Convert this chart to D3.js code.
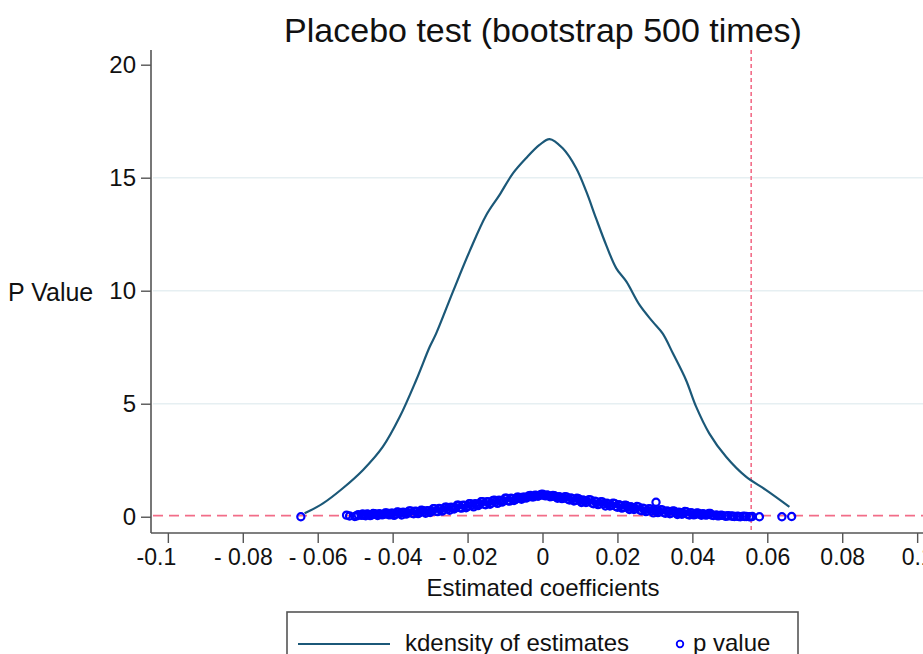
<!DOCTYPE html>
<html>
<head>
<meta charset="utf-8">
<script src="https://cdn.jsdelivr.net/npm/d3@7"></script>
<style>
  body { margin: 0; background: #fff; }
  svg text { font-family: "Liberation Sans", Arial, sans-serif; fill: #111; }
</style>
</head>
<body>
<div id="chart"></div>
<script>
// kernel density curve of the placebo estimates
var kdX = [-0.0635, -0.0586, -0.0533, -0.0479, -0.0426, -0.0381, -0.0337, -0.0301, -0.0284, -0.0239,
           -0.0195, -0.0150, -0.0115, -0.0079, -0.0044, -0.0008, 0.0019, 0.0054, 0.0090, 0.0117,
           0.0143, 0.0170, 0.0197, 0.0224, 0.0259, 0.0294, 0.0321, 0.0348, 0.0383, 0.0410,
           0.0445, 0.0490, 0.0543, 0.0597, 0.0659];
var kdY = [0.15, 0.59, 1.26, 2.07, 3.10, 4.42, 6.05, 7.52, 8.10, 9.96,
           11.73, 13.35, 14.23, 15.19, 15.86, 16.45, 16.71, 16.30, 15.42, 14.38,
           13.20, 12.02, 10.99, 10.40, 9.37, 8.63, 8.10, 7.23, 6.05, 4.87,
           3.69, 2.65, 1.77, 1.18, 0.44];

// p values of the bootstrap estimates (coefficient, p)
var pCoef = [-0.0480, -0.0472, -0.0464, -0.0456, -0.0448, -0.0440, -0.0432, -0.0424, -0.0416, -0.0408,
             -0.0400, -0.0392, -0.0384, -0.0376, -0.0368, -0.0360, -0.0352, -0.0344, -0.0336, -0.0328,
             -0.0320, -0.0312, -0.0304, -0.0296, -0.0288, -0.0280, -0.0272, -0.0264, -0.0256, -0.0248,
             -0.0240, -0.0232, -0.0224, -0.0216, -0.0208, -0.0200, -0.0192, -0.0184, -0.0176, -0.0168,
             -0.0160, -0.0152, -0.0144, -0.0136, -0.0128, -0.0120, -0.0112, -0.0104, -0.0096, -0.0088,
             -0.0080, -0.0072, -0.0064, -0.0056, -0.0048, -0.0040, -0.0032, -0.0024, -0.0016, -0.0008,
             0.0000, 0.0008, 0.0016, 0.0024, 0.0032, 0.0040, 0.0048, 0.0056, 0.0064, 0.0072,
             0.0080, 0.0088, 0.0096, 0.0104, 0.0112, 0.0120, 0.0128, 0.0136, 0.0144, 0.0152,
             0.0160, 0.0168, 0.0176, 0.0184, 0.0192, 0.0200, 0.0208, 0.0216, 0.0224, 0.0232,
             0.0240, 0.0248, 0.0256, 0.0264, 0.0272, 0.0280, 0.0288, 0.0296, 0.0304, 0.0312,
             0.0320, 0.0328, 0.0336, 0.0344, 0.0352, 0.0360, 0.0368, 0.0376, 0.0384, 0.0392,
             0.0400, 0.0408, 0.0416, 0.0424, 0.0432, 0.0440, 0.0448, 0.0456, 0.0464, 0.0472,
             0.0480, 0.0488, 0.0496, 0.0504, 0.0512, 0.0520, 0.0528, 0.0536, 0.0544, 0.0552,
             0.0560, 0.0579, 0.0639, 0.0665, 0.0303, -0.0645, -0.0523, -0.0515, -0.0501];
var pVal = [0.125, 0.045, 0.105, 0.075, 0.135, 0.055, 0.115, 0.105, 0.165, 0.085,
            0.154, 0.108, 0.205, 0.079, 0.176, 0.162, 0.260, 0.133, 0.231, 0.184,
            0.282, 0.156, 0.253, 0.242, 0.360, 0.226, 0.344, 0.300, 0.419, 0.285,
            0.403, 0.395, 0.513, 0.380, 0.498, 0.454, 0.572, 0.438, 0.557, 0.549,
            0.667, 0.533, 0.651, 0.608, 0.726, 0.592, 0.710, 0.702, 0.819, 0.693,
            0.801, 0.768, 0.864, 0.772, 0.861, 0.863, 0.937, 0.877, 0.944, 0.937,
            0.997, 0.923, 0.944, 0.894, 0.927, 0.820, 0.861, 0.823, 0.877, 0.739,
            0.801, 0.726, 0.802, 0.630, 0.710, 0.664, 0.744, 0.572, 0.651, 0.569,
            0.649, 0.477, 0.557, 0.510, 0.590, 0.418, 0.498, 0.416, 0.495, 0.323,
            0.403, 0.357, 0.437, 0.264, 0.344, 0.262, 0.342, 0.170, 0.253, 0.220,
            0.298, 0.152, 0.231, 0.165, 0.244, 0.098, 0.176, 0.143, 0.221, 0.076,
            0.154, 0.105, 0.155, 0.065, 0.115, 0.095, 0.145, 0.055, 0.080, 0.050,
            0.060, 0.020, 0.040, 0.030, 0.010, 0.020, 0.000, 0.020, 0.010, 0.000,
            0.010, 0.000, 0.000, 0.010, 0.640, 0.000, 0.070, 0.030, 0.010];

// second batch of estimates, lying between the first ones
var pCoef2 = [-0.0476, -0.0468, -0.0460, -0.0452, -0.0444, -0.0436, -0.0428, -0.0420, -0.0412, -0.0404,
              -0.0396, -0.0388, -0.0380, -0.0372, -0.0364, -0.0356, -0.0348, -0.0340, -0.0332, -0.0324,
              -0.0316, -0.0308, -0.0300, -0.0292, -0.0284, -0.0276, -0.0268, -0.0260, -0.0252, -0.0244,
              -0.0236, -0.0228, -0.0220, -0.0212, -0.0204, -0.0196, -0.0188, -0.0180, -0.0172, -0.0164,
              -0.0156, -0.0148, -0.0140, -0.0132, -0.0124, -0.0116, -0.0108, -0.0100, -0.0092, -0.0084,
              -0.0076, -0.0068, -0.0060, -0.0052, -0.0044, -0.0036, -0.0028, -0.0020, -0.0012, -0.0004,
              0.0004, 0.0012, 0.0020, 0.0028, 0.0036, 0.0044, 0.0052, 0.0060, 0.0068, 0.0076,
              0.0084, 0.0092, 0.0100, 0.0108, 0.0116, 0.0124, 0.0132, 0.0140, 0.0148, 0.0156,
              0.0164, 0.0172, 0.0180, 0.0188, 0.0196, 0.0204, 0.0212, 0.0220, 0.0228, 0.0236,
              0.0244, 0.0252, 0.0260, 0.0268, 0.0276, 0.0284, 0.0292, 0.0300, 0.0308, 0.0316,
              0.0324, 0.0332, 0.0340, 0.0348, 0.0356, 0.0364, 0.0372, 0.0380, 0.0388, 0.0396,
              0.0404, 0.0412, 0.0420, 0.0428, 0.0436, 0.0444, 0.0452, 0.0468, 0.0476, 0.0492,
              0.0508, 0.0524, 0.0540, 0.0556, -0.0484, -0.0492, -0.0496];
var pVal2 = [0.060, 0.120, 0.050, 0.140, 0.100, 0.130, 0.080, 0.165, 0.100, 0.160,
             0.063, 0.208, 0.146, 0.196, 0.117, 0.259, 0.152, 0.250, 0.140, 0.285,
             0.223, 0.272, 0.187, 0.355, 0.243, 0.362, 0.246, 0.418, 0.356, 0.420,
             0.341, 0.508, 0.397, 0.515, 0.399, 0.572, 0.510, 0.574, 0.494, 0.662,
             0.551, 0.669, 0.553, 0.725, 0.663, 0.728, 0.648, 0.815, 0.707, 0.816,
             0.720, 0.864, 0.819, 0.869, 0.825, 0.933, 0.880, 0.947, 0.908, 0.986,
             0.944, 0.963, 0.884, 0.941, 0.879, 0.886, 0.802, 0.889, 0.771, 0.834,
             0.696, 0.817, 0.721, 0.747, 0.629, 0.758, 0.608, 0.688, 0.534, 0.668,
             0.567, 0.593, 0.475, 0.604, 0.455, 0.534, 0.380, 0.514, 0.414, 0.440,
             0.321, 0.450, 0.301, 0.381, 0.227, 0.360, 0.260, 0.286, 0.184, 0.307,
             0.181, 0.260, 0.130, 0.256, 0.175, 0.205, 0.108, 0.230, 0.104, 0.183,
             0.083, 0.163, 0.110, 0.133, 0.070, 0.150, 0.070, 0.040, 0.070, 0.030,
             0.020, 0.010, 0.010, 0.000, 0.060, 0.090, 0.040];

var xTicks = [-0.1, -0.08, -0.06, -0.04, -0.02, 0, 0.02, 0.04, 0.06, 0.08, 0.1];
var xTickLabels = ["-0.1", "- 0.08", "- 0.06", "- 0.04", "- 0.02", "0", "0.02", "0.04", "0.06", "0.08", "0.1"];
var yTicks = [0, 5, 10, 15, 20];
var pCut = 0.05;        // horizontal reference line
var trueCoef = 0.0557;  // vertical reference line

var W = 923, H = 654;
var navy = "#1b5878", blue = "#0000ff", pink = "#f26d88", axisCol = "#555";
var font = "'Liberation Sans', Arial, sans-serif";

var svg = d3.select("#chart").append("svg")
  .attr("width", W).attr("height", H)
  .style("display", "block");

var x = d3.scaleLinear().domain([-0.1045, 0.1061]).range([151, 940]);
var y = d3.scaleLinear().domain([-0.72, 20.65]).range([533, 50]);

// grid
svg.append("g").selectAll("line")
  .data([5, 10, 15])
  .join("line")
  .attr("x1", 153).attr("x2", W)
  .attr("y1", d => y(d)).attr("y2", d => y(d))
  .attr("stroke", "#e6eff2").attr("stroke-width", 1.5);

// reference lines
svg.append("line")
  .attr("x1", 153).attr("x2", W)
  .attr("y1", y(pCut)).attr("y2", y(pCut))
  .attr("stroke", pink).attr("stroke-width", 1.6)
  .attr("stroke-dasharray", "10,6");

svg.append("line")
  .attr("x1", x(trueCoef)).attr("x2", x(trueCoef))
  .attr("y1", 50).attr("y2", 532)
  .attr("stroke", pink).attr("stroke-width", 1.6)
  .attr("stroke-dasharray", "4,3");

// density curve
var kd = kdX.map((d, i) => [d, kdY[i]]);
svg.append("path")
  .datum(kd)
  .attr("fill", "none")
  .attr("stroke", navy)
  .attr("stroke-width", 2.2)
  .attr("d", d3.line().x(d => x(d[0])).y(d => y(d[1])).curve(d3.curveCatmullRom));

// p value markers
var pts = pCoef.map((d, i) => [d, pVal[i]])
  .concat(pCoef2.map((d, i) => [d, pVal2[i]]));
svg.append("g").selectAll("circle")
  .data(pts)
  .join("circle")
  .attr("cx", d => x(d[0])).attr("cy", d => y(d[1]))
  .attr("r", 3.6)
  .attr("fill", "none")
  .attr("stroke", blue).attr("stroke-width", 2.2);

// axes
var yAxis = d3.axisLeft(y).tickValues(yTicks).tickSize(10).tickPadding(5).tickSizeOuter(0);
var gy = svg.append("g").attr("transform", "translate(151,0)").call(yAxis);
gy.select(".domain").attr("d", "M0,50V533").attr("stroke", axisCol).attr("stroke-width", 1.6);
gy.selectAll(".tick line").attr("stroke", axisCol).attr("stroke-width", 1.4);
gy.selectAll(".tick text").attr("font-size", 24).attr("fill", "#111").style("font-family", font);

var xAxis = d3.axisBottom(x).tickValues(xTicks).tickSize(10).tickPadding(6).tickSizeOuter(0)
  .tickFormat((d, i) => xTickLabels[i]);
var gx = svg.append("g").attr("transform", "translate(0,533)").call(xAxis);
gx.select(".domain").attr("d", "M151,0H" + W).attr("stroke", axisCol).attr("stroke-width", 1.6);
gx.selectAll(".tick line").attr("stroke", axisCol).attr("stroke-width", 1.4);
gx.selectAll(".tick text").attr("font-size", 23).attr("fill", "#111").style("font-family", font);
gx.selectAll(".tick text").filter((d, i) => i == 0).attr("dx", -12);

// titles
svg.append("text")
  .attr("x", 543).attr("y", 42)
  .attr("text-anchor", "middle")
  .attr("font-size", 34)
  .attr("fill", "#1c2a3a")
  .text("Placebo test (bootstrap 500 times)");

svg.append("text")
  .attr("x", 543).attr("y", 596)
  .attr("text-anchor", "middle")
  .attr("font-size", 24)
  .text("Estimated coefficients");

svg.append("text")
  .attr("x", 8).attr("y", 301)
  .attr("font-size", 25)
  .text("P Value");

// legend
var leg = svg.append("g");
leg.append("rect")
  .attr("x", 287).attr("y", 612)
  .attr("width", 511).attr("height", 60)
  .attr("fill", "#fff")
  .attr("stroke", axisCol).attr("stroke-width", 1.6);
leg.append("line")
  .attr("x1", 298).attr("x2", 390)
  .attr("y1", 644).attr("y2", 644)
  .attr("stroke", navy).attr("stroke-width", 2.2);
leg.append("text")
  .attr("x", 405).attr("y", 651)
  .attr("font-size", 24)
  .text("kdensity of estimates");
leg.append("circle")
  .attr("cx", 680).attr("cy", 644).attr("r", 3.3)
  .attr("fill", "none").attr("stroke", blue).attr("stroke-width", 1.8);
leg.append("text")
  .attr("x", 693).attr("y", 651)
  .attr("font-size", 24)
  .text("p value");
</script>
</body>
</html>
